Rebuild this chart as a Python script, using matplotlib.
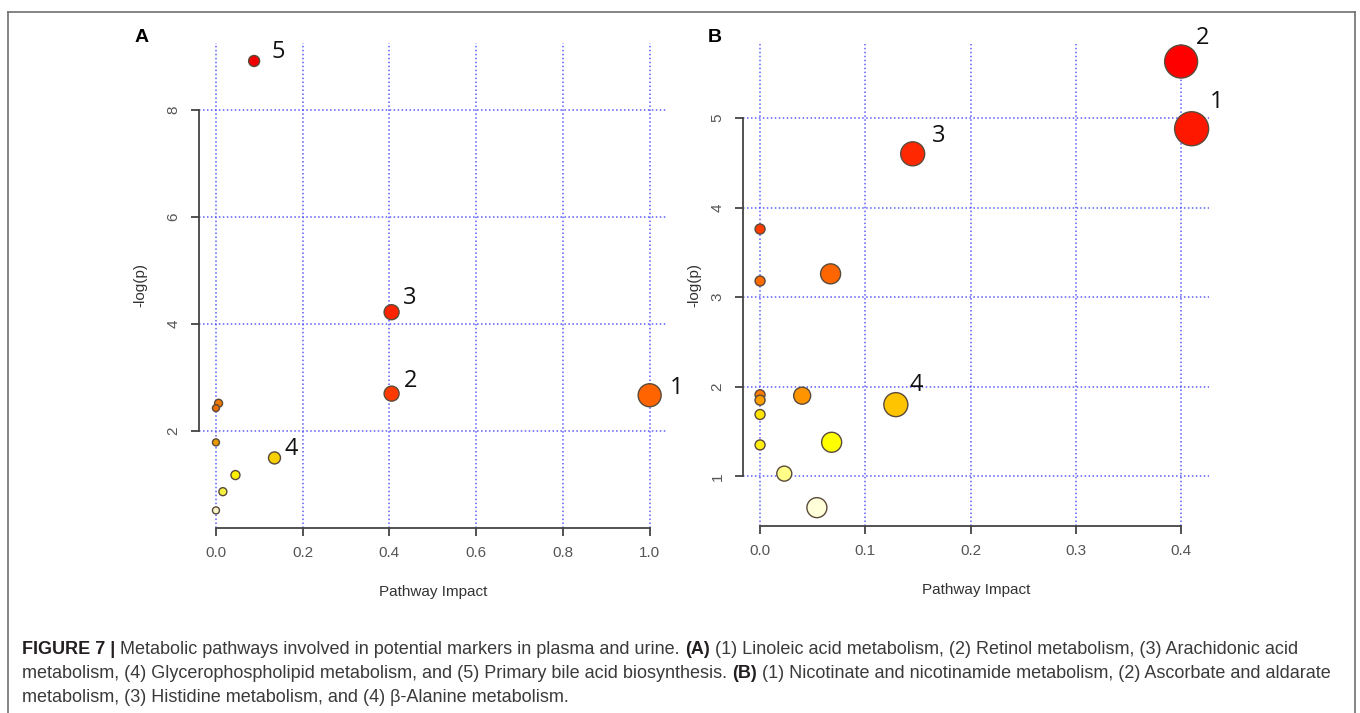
"""Pathway impact bubble plots (plasma / urine) with the figure caption."""

import matplotlib

matplotlib.use("Agg")
import matplotlib.pyplot as plt
from matplotlib.lines import Line2D

# ---- panel A: plasma ----
impact_a = [1.0, 0.405, 0.405, 0.135, 0.088, 0.006, 0.0, 0.0, 0.045, 0.016, 0.0]
logp_a = [2.67, 2.70, 4.22, 1.50, 8.91, 2.52, 2.43, 1.79, 1.18, 0.87, 0.52]
labels_a = ["1", "2", "3", "4", "5", "", "", "", "", "", ""]
xticks_a = [0.0, 0.2, 0.4, 0.6, 0.8, 1.0]
yticks_a = [2, 4, 6, 8]

# ---- panel B: urine ----
impact_b = [0.410, 0.400, 0.145, 0.129, 0.0, 0.0, 0.067, 0.0, 0.0, 0.040, 0.0, 0.068, 0.0, 0.023, 0.054]
logp_b = [4.88, 5.63, 4.60, 1.80, 3.76, 3.18, 3.26, 1.91, 1.85, 1.90, 1.69, 1.38, 1.35, 1.03, 0.65]
labels_b = ["1", "2", "3", "4", "", "", "", "", "", "", "", "", "", "", ""]
xticks_b = [0.0, 0.1, 0.2, 0.3, 0.4]
yticks_b = [1, 2, 3, 4, 5]

# marker look (diameter in px, fill colour)
diam_a = [23, 15, 15, 12, 11, 8, 7, 7, 9, 8, 7]
color_a = ["#FF6400", "#FF3A00", "#FF2400", "#F8D000", "#F00000", "#F07800",
           "#E86C00", "#E89A00", "#FFF000", "#F4F040", "#F8F4C8"]
diam_b = [34, 33, 24, 24, 10, 10, 20, 10, 10, 17, 10, 20, 10, 15, 20]
color_b = ["#FF1800", "#FF0000", "#FF2800", "#FFC400", "#FF3C00", "#FF6A00",
           "#FF6600", "#FF7A00", "#FFA000", "#FF9400", "#FFE400", "#FFFF00",
           "#FFEE10", "#FFFF88", "#FFFFDA"]
# label offsets from the bubble centre, pixels (right, up)
offs_a = {"1": (27, 7), "2": (19, 13), "3": (18, 14), "4": (17, 9), "5": (24, 9)}
offs_b = {"1": (25, 27), "2": (21, 24), "3": (26, 18), "4": (20, 20)}

caption_lines = [
    [("FIGURE 7 | ", True), ("Metabolic pathways involved in potential markers in plasma and urine. ", False),
     ("(A)", True), (" (1) Linoleic acid metabolism, (2) Retinol metabolism, (3) Arachidonic acid", False)],
    [("metabolism, (4) Glycerophospholipid metabolism, and (5) Primary bile acid biosynthesis. ", False),
     ("(B)", True), (" (1) Nicotinate and nicotinamide metabolism, (2) Ascorbate and aldarate", False)],
    [("metabolism, (3) Histidine metabolism, and (4) \u03b2-Alanine metabolism.", False)],
]

W, H = 1360, 713
FONT = "Liberation Sans"


def fx(x):
    return x / W


def fy(y):
    return 1 - y / H


def r_range(vals):
    lo, hi = min(vals), max(vals)
    pad = 0.04 * (hi - lo)
    return lo - pad, hi + pad


def bubble_panel(ax, xs, ys, labels, diam, colors, offs, xticks, yticks):
    ax.set_xlim(*r_range(xs))
    ax.set_ylim(*r_range(ys))
    ax.set_xticks(xticks)
    ax.set_yticks(yticks)
    ax.set_xticklabels([f"{t:.1f}" for t in xticks])
    ax.set_yticklabels([str(t) for t in yticks])
    ax.grid(True, color="#4040ff", linestyle=(0, (1, 1.6)), linewidth=1.1, alpha=0.85)
    ax.set_axisbelow(True)
    for side in ("top", "right"):
        ax.spines[side].set_visible(False)
    ax.spines["left"].set_bounds(yticks[0], yticks[-1])
    ax.spines["bottom"].set_bounds(xticks[0], xticks[-1])
    for side in ("left", "bottom"):
        ax.spines[side].set_color("#444444")
        ax.spines[side].set_linewidth(1.3)
    ax.tick_params(direction="out", length=6, width=1.3, color="#444444",
                   labelcolor="#555555", labelsize=11, pad=7)
    ax.tick_params(axis="y", labelrotation=90)
    for lab in ax.get_xticklabels() + ax.get_yticklabels():
        lab.set_family(FONT)
    for lab in ax.get_yticklabels():
        lab.set_va("center")

    sizes = [(d * 0.72) ** 2 for d in diam]
    ax.scatter(xs, ys, s=sizes, c=colors, edgecolors="#5a4a3a", linewidths=1.0, zorder=3, clip_on=False)
    for x, y, lab in zip(xs, ys, labels):
        if lab:
            ax.annotate(lab, (x, y), xytext=offs[lab], textcoords="offset pixels",
                        ha="center", va="center", fontsize=17, family="Open Sans", color="#111111")

    ax.set_xlabel("Pathway Impact", family=FONT, fontsize=11, color="#333333", labelpad=18)
    ax.set_ylabel("-log(p)", family=FONT, fontsize=11, color="#333333")


fig = plt.figure(figsize=(W / 100, H / 100), dpi=100)

ax_a = fig.add_axes([fx(198.6), fy(528.4), (667 - 198.6) / W, (528.4 - 43) / H])
ax_b = fig.add_axes([fx(742.8), fy(525.5), (1208.9 - 742.8) / W, (525.5 - 43.7) / H])

bubble_panel(ax_a, impact_a, logp_a, labels_a, diam_a, color_a, offs_a, xticks_a, yticks_a)
bubble_panel(ax_b, impact_b, logp_b, labels_b, diam_b, color_b, offs_b, xticks_b, yticks_b)
# ylabels: anchor is the right side of the rotated text
ax_a.yaxis.set_label_coords(fx(147), fy(285), transform=fig.transFigure)
ax_b.yaxis.set_label_coords(fx(701), fy(285), transform=fig.transFigure)

fig.text(fx(142), fy(37), "A", fontsize=14, fontweight="bold", family=FONT, ha="center", va="center")
fig.text(fx(715), fy(37), "B", fontsize=14, fontweight="bold", family=FONT, ha="center", va="center")

# frame around the figure block (open at the bottom)
frame = dict(color="#707070", linewidth=1.2, transform=fig.transFigure)
fig.add_artist(Line2D([fx(8), fx(8)], [fy(12), 0], **frame))
fig.add_artist(Line2D([fx(8), fx(1355)], [fy(12), fy(12)], **frame))
fig.add_artist(Line2D([fx(1355), fx(1355)], [fy(12), 0], **frame))

# caption, drawn run by run so bold parts sit inline
renderer = fig.canvas.get_renderer()


def draw_runs(x_px, y_px, runs, size):
    x = x_px
    for text, bold in runs:
        t = fig.text(fx(x), fy(y_px), text, fontsize=size, family=FONT,
                     fontweight="bold" if bold else "normal",
                     color="#231f20" if bold else "#3a3a3a", va="center", ha="left")
        x += t.get_window_extent(renderer).width
    return x


probe = draw_runs(0, -100, caption_lines[0], 10)
cap_size = 10 * 1275 / probe
for artist in list(fig.texts):
    if artist.get_position()[1] > 1.0:
        artist.remove()

for line, y in zip(caption_lines, [649, 673, 697]):
    draw_runs(22, y, line, cap_size)

fig.savefig("out.png", dpi=100)
